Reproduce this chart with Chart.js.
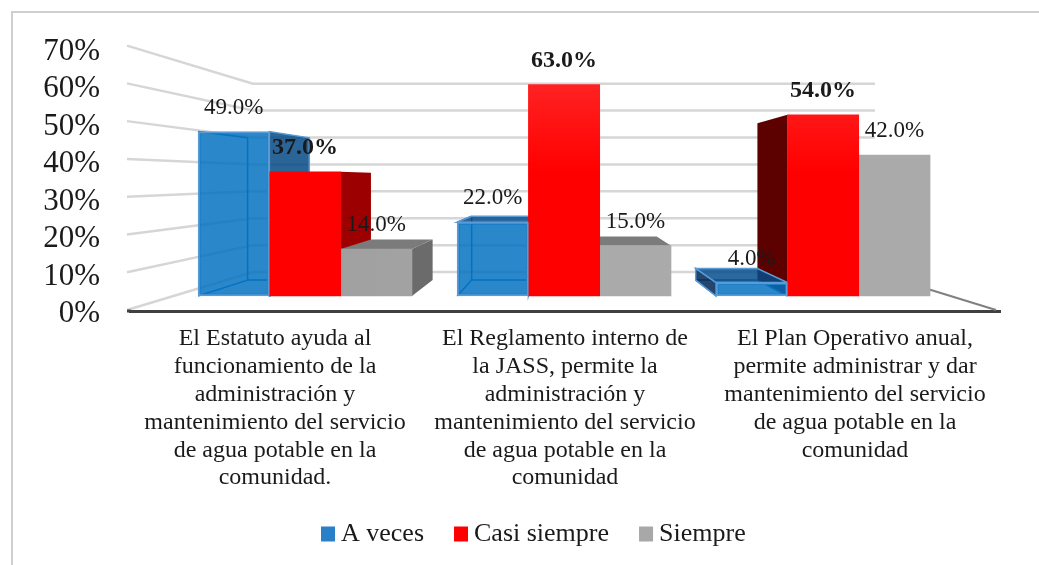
<!DOCTYPE html>
<html>
<head>
<meta charset="utf-8">
<title>Chart</title>
<script src="https://cdn.jsdelivr.net/npm/chart.js@4/dist/chart.umd.min.js"></script>
<style>
    body { margin: 0; background: #fff; }
    canvas { display: block; }
</style>
</head>
<body>
<canvas id="canvas" width="1039" height="565"></canvas>
<script>
    var categories = [
        ['El Estatuto ayuda al', 'funcionamiento de la', 'administración y', 'mantenimiento del servicio', 'de agua potable en la', 'comunidad.'],
        ['El Reglamento interno de', 'la JASS, permite la', 'administración y', 'mantenimiento del servicio', 'de agua potable en la', 'comunidad'],
        ['El Plan Operativo anual,', 'permite administrar y dar', 'mantenimiento del servicio', 'de agua potable en la', 'comunidad']
    ]
    var aVeces = [49, 22, 4]
    var casiSiempre = [37, 63, 54]
    var siempre = [14, 15, 42]

    var serif = '"Liberation Serif", "Times New Roman", serif'
    var textColor = '#1a1a1a'

    // perspective of the fake 3d box: vanishing point and depth factors
    var VX = 565, VY = 178, BAR_DEPTH = 0.135, WALL_DEPTH = 0.2875

    var faceColors = [
        { side: 'rgba(2,71,132,0.84)', left: 'rgba(0,40,85,0.86)', top: 'rgba(2,75,138,0.84)', edge: '#5b9bd5', wire: '#1a78c8' },
        { side: '#9c0000', left: '#5c0000', top: '#9c0000' },
        { side: '#6b6b6b', left: '#6b6b6b', top: '#7b7b7b' }
    ]

    var ctx = document.getElementById('canvas').getContext('2d');

    var redFill = ctx.createLinearGradient(0, 84, 0, 172)
    redFill.addColorStop(0, '#ff2222')
    redFill.addColorStop(1, '#ff0000')

    var grayFill = ctx.createLinearGradient(340, 0, 600, 0)
    grayFill.addColorStop(0, '#a0a0a0')
    grayFill.addColorStop(1, '#aaaaaa')

    function toPoints(values) {
        return values.map(function(v, i) { return { x: i, y: v } })
    }

    function toBack(x, y, depth) {
        return [x + (VX - x) * depth, y + (VY - y) * depth]
    }

    function poly(c, pts, fill, stroke) {
        c.beginPath()
        pts.forEach(function(p, i) {
            if (i == 0) c.moveTo(p[0], p[1])
            else c.lineTo(p[0], p[1])
        })
        c.closePath()
        if (fill) {
            c.fillStyle = fill
            c.fill()
        }
        if (stroke) {
            c.strokeStyle = stroke
            c.lineWidth = 1.5
            c.stroke()
        }
    }

    function line(c, x1, y1, x2, y2) {
        c.beginPath()
        c.moveTo(x1, y1)
        c.lineTo(x2, y2)
        c.stroke()
    }

    var framePlugin = {
        id: 'frame',
        beforeDraw: function(chart) {
            var c = chart.ctx
            c.save()
            c.strokeStyle = '#cfcfcf'
            c.lineWidth = 2
            c.beginPath()
            c.moveTo(12, 565)
            c.lineTo(12, 12)
            c.lineTo(1039, 12)
            c.stroke()
            c.restore()
        }
    }

    // walls and floor, from the hidden wall axis
    var wallsPlugin = {
        id: 'walls',
        beforeDatasetsDraw: function(chart) {
            var c = chart.ctx
            var area = chart.chartArea
            var left = area.left - 3
            var right = area.right
            var floorRight = toBack(right, area.bottom, WALL_DEPTH)
            c.save()
            c.strokeStyle = '#d6d6d6'
            c.lineWidth = 2.5
            chart.scales.y.ticks.forEach(function(t) {
                var y = chart.scales.yw.getPixelForValue(t.value)
                var p = toBack(left, y, WALL_DEPTH)
                c.beginPath()
                c.moveTo(left, y)
                c.lineTo(p[0], p[1])
                c.lineTo(floorRight[0], p[1])
                c.stroke()
            })
            c.lineWidth = 2
            c.strokeStyle = '#808080'
            line(c, right - 4, area.bottom - 1, floorRight[0], floorRight[1])
            // axis line starts a little left of the chart area
            c.lineWidth = 3
            c.strokeStyle = '#404040'
            line(c, left, area.bottom, area.left + 1, area.bottom)
            c.restore()
        }
    }

    // sides of the bars: farthest from the vanishing point first
    var facesPlugin = {
        id: 'faces',
        beforeDatasetsDraw: function(chart) {
            var c = chart.ctx
            var bars = []
            chart.data.datasets.forEach(function(ds, d) {
                chart.getDatasetMeta(d).data.forEach(function(el) {
                    bars.push({ d: d, l: el.x - el.width / 2, r: el.x + el.width / 2, t: el.y, b: el.base, x: el.x })
                })
            })
            bars.sort(function(a, b) { return Math.abs(b.x - VX) - Math.abs(a.x - VX) })

            c.save()
            bars.forEach(function(bar) {
                var col = faceColors[bar.d]
                var lt = toBack(bar.l, bar.t, BAR_DEPTH)
                var rt = toBack(bar.r, bar.t, BAR_DEPTH)
                var lb = toBack(bar.l, bar.b, BAR_DEPTH)
                var rb = toBack(bar.r, bar.b, BAR_DEPTH)

                if (col.wire) {
                    c.strokeStyle = col.wire
                    c.lineWidth = 1.5
                    line(c, lt[0], lt[1], lb[0], lb[1])
                    line(c, lb[0], lb[1], rb[0], rb[1])
                    line(c, lb[0], lb[1], bar.l, bar.b)
                    line(c, rb[0], rb[1], bar.r, bar.b)
                    line(c, lt[0], lt[1], bar.l, bar.t)
                }
                if (bar.r < VX) {
                    poly(c, [[bar.r, bar.t], [bar.r, bar.b], rb, rt], col.side, col.edge)
                }
                if (bar.l > VX) {
                    poly(c, [[bar.l, bar.t], [bar.l, bar.b], lb, lt], col.left, col.edge)
                }
                if (bar.t > VY) {
                    poly(c, [[bar.l, bar.t], [bar.r, bar.t], rt, lt], col.top, col.edge)
                }
            })
            c.restore()
        }
    }

    var valueLabelsPlugin = {
        id: 'valueLabels',
        afterDatasetsDraw: function(chart) {
            var c = chart.ctx
            c.save()
            c.fillStyle = textColor
            c.textAlign = 'center'
            c.textBaseline = 'middle'
            chart.data.datasets.forEach(function(ds, d) {
                c.font = (d == 1 ? 'bold 24px ' : '23px ') + serif
                chart.getDatasetMeta(d).data.forEach(function(el, i) {
                    c.fillText(ds.data[i].y.toFixed(1) + '%', el.x, el.y - 24)
                })
            })
            c.restore()
        }
    }

    var legendPlugin = {
        id: 'boxLegend',
        afterDraw: function(chart) {
            var c = chart.ctx
            var x = 321
            c.save()
            c.font = '26px ' + serif
            c.textBaseline = 'middle'
            c.textAlign = 'left'
            chart.data.datasets.forEach(function(ds) {
                c.fillStyle = ds.legendColor
                c.fillRect(x, 526.5, 14, 15)
                c.fillStyle = textColor
                c.fillText(ds.label, x + 20, 534)
                x += 20 + c.measureText(ds.label).width + 30
            })
            c.restore()
        }
    }

    var chart = new Chart(ctx, {
        type: 'bar',
        data: {
            datasets: [{
                label: 'A veces',
                data: toPoints(aVeces),
                xAxisID: 'xb',
                yAxisID: 'yb',
                backgroundColor: 'rgba(0,112,192,0.84)',
                borderColor: '#5b9bd5',
                borderWidth: 2,
                borderSkipped: false,
                legendColor: '#2a80c8'
            }, {
                label: 'Casi siempre',
                data: toPoints(casiSiempre),
                xAxisID: 'xb',
                yAxisID: 'yb',
                backgroundColor: redFill,
                legendColor: '#ff0000'
            }, {
                label: 'Siempre',
                data: toPoints(siempre),
                xAxisID: 'xb',
                yAxisID: 'yb',
                backgroundColor: grayFill,
                legendColor: '#a8a8a8'
            }]
        },
        plugins: [framePlugin, wallsPlugin, facesPlugin, valueLabelsPlugin, legendPlugin],
        options: {
            responsive: false,
            animation: false,
            layout: { padding: { top: 48, right: 39 } },
            plugins: { legend: { display: false }, tooltip: { enabled: false } },
            datasets: { bar: { barThickness: 71.3 } },
            scales: {
                // visible axes sit on the front plane of the box
                x: {
                    type: 'category',
                    labels: categories,
                    offset: true,
                    afterFit: function(scale) { scale.height = 254 },
                    grid: { display: false, drawTicks: false },
                    border: { color: '#404040', width: 3 },
                    ticks: {
                        autoSkip: false,
                        maxRotation: 0,
                        padding: 14,
                        color: textColor,
                        font: { family: serif, size: 24, lineHeight: 1.16 }
                    }
                },
                y: {
                    min: 0,
                    max: 70,
                    afterFit: function(scale) { scale.width = 130 },
                    grid: { display: false, drawTicks: false },
                    border: { display: false },
                    ticks: {
                        autoSkip: false,
                        stepSize: 10,
                        padding: 30,
                        labelOffset: 3,
                        color: textColor,
                        font: { family: serif, size: 31 },
                        callback: function(v) { return v + '%' }
                    }
                },
                // hidden axes: bars stand further back in the box, walls have their own spacing
                xb: { type: 'linear', axis: 'x', display: false, offset: false, min: -0.6757, max: 2.683 },
                yb: { type: 'linear', axis: 'y', display: false, min: -4.458, max: 73.7 },
                yw: { type: 'linear', axis: 'y', display: false, min: -0.264, max: 69.2 }
            }
        }
    });
</script>
</body>
</html>
